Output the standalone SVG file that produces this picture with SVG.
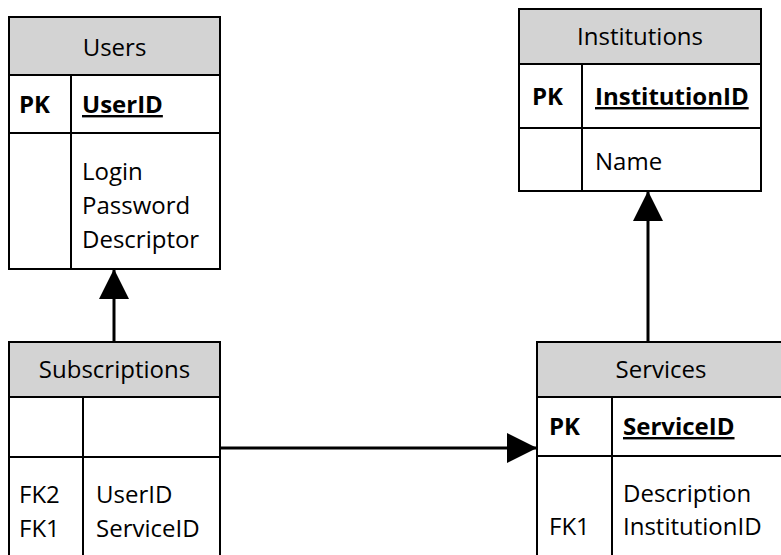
<svg xmlns="http://www.w3.org/2000/svg" width="781" height="555" viewBox="0 0 781 555">
  <style>
    .box { fill: #ffffff; stroke: #000000; stroke-width: 2; }
    .head { fill: #d3d3d3; stroke: #000000; stroke-width: 2; }
    .rule { stroke: #000000; stroke-width: 2; fill: none; }
    text { font-family: "Open Sans", "Noto Sans", "DejaVu Sans", sans-serif; font-size: 24px; fill: #000000; }
    .title { text-anchor: middle; }
    .key { font-weight: bold; }
    .pk { font-weight: bold; text-decoration: underline; }
    .link { stroke: #000000; stroke-width: 3; fill: none; }
  </style>
  <defs>
    <marker id="arrow" markerUnits="userSpaceOnUse" markerWidth="30" markerHeight="30" refX="29" refY="15" orient="auto" viewBox="0 0 30 30">
      <path d="M0,0 L30,15 L0,30 Z" fill="#000000"/>
    </marker>
  </defs>

  <!-- Users table -->
  <g id="users">
    <rect class="box" x="9" y="17" width="211" height="252"/>
    <rect class="head" x="9" y="17" width="211" height="58"/>
    <line class="rule" x1="9" y1="133" x2="220" y2="133"/>
    <line class="rule" x1="71" y1="75" x2="71" y2="269"/>
    <text class="title" x="114.5" y="56">Users</text>
    <text class="key" x="19" y="113">PK</text>
    <text class="pk" x="82" y="113">UserID</text>
    <text x="82" y="180">Login</text>
    <text x="82" y="214">Password</text>
    <text x="82" y="248">Descriptor</text>
  </g>

  <!-- Institutions table -->
  <g id="institutions">
    <rect class="box" x="519" y="9" width="242" height="182"/>
    <rect class="head" x="519" y="9" width="242" height="55"/>
    <line class="rule" x1="519" y1="128" x2="761" y2="128"/>
    <line class="rule" x1="582" y1="64" x2="582" y2="191"/>
    <text class="title" x="640" y="45">Institutions</text>
    <text class="key" x="532" y="105">PK</text>
    <text class="pk" x="595" y="105">InstitutionID</text>
    <text x="595" y="170">Name</text>
  </g>

  <!-- Subscriptions table -->
  <g id="subscriptions">
    <rect class="box" x="9" y="342" width="211" height="230"/>
    <rect class="head" x="9" y="342" width="211" height="55"/>
    <line class="rule" x1="9" y1="457" x2="220" y2="457"/>
    <line class="rule" x1="83" y1="397" x2="83" y2="572"/>
    <text class="title" x="114.5" y="378">Subscriptions</text>
    <text x="19" y="503">FK2</text>
    <text x="19" y="537">FK1</text>
    <text x="96" y="503">UserID</text>
    <text x="96" y="537">ServiceID</text>
  </g>

  <!-- Services table -->
  <g id="services">
    <rect class="box" x="537" y="342" width="250" height="230"/>
    <rect class="head" x="537" y="342" width="250" height="55"/>
    <line class="rule" x1="537" y1="456" x2="787" y2="456"/>
    <line class="rule" x1="612" y1="397" x2="612" y2="572"/>
    <text class="title" x="661" y="378">Services</text>
    <text class="key" x="549" y="435">PK</text>
    <text class="pk" x="623" y="435">ServiceID</text>
    <text x="549" y="535">FK1</text>
    <text x="623" y="502">Description</text>
    <text x="623" y="535">InstitutionID</text>
  </g>

  <!-- Relationships -->
  <g id="connectors">
    <line class="link" x1="114" y1="342" x2="114" y2="270" marker-end="url(#arrow)"/>
    <line class="link" x1="648" y1="342" x2="648" y2="192" marker-end="url(#arrow)"/>
    <line class="link" x1="220" y1="448" x2="536" y2="448" marker-end="url(#arrow)"/>
  </g>
</svg>
